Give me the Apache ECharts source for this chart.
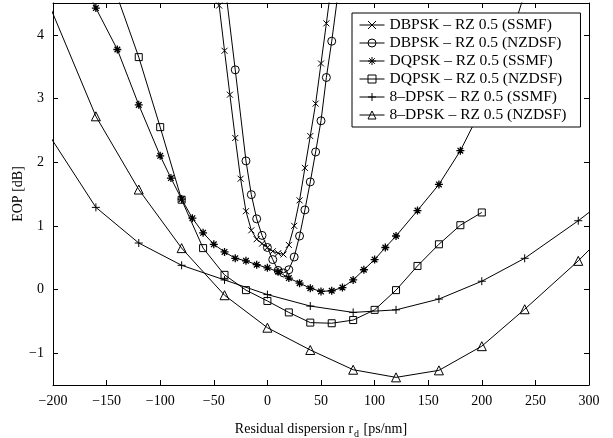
<!DOCTYPE html>
<html>
<head>
<meta charset="utf-8">
<script src="https://cdn.jsdelivr.net/npm/echarts@6/dist/echarts.min.js"></script>
<style>
  html, body { margin: 0; padding: 0; background: #fff; }
  #main { width: 613px; height: 438px; }
</style>
</head>
<body>
<div id="main"></div>
<script>
// series values (x in ps/nm, y in dB)
var dbpskSsmfX = [-50, -45, -40, -35, -30, -25, -20, -15, -10, -5, 0, 5, 10, 15, 20, 25, 30, 35, 40, 45, 50, 55, 60];
var dbpskSsmfY = [5.1, 4.46, 3.75, 3.06, 2.38, 1.74, 1.23, 0.93, 0.79, 0.72, 0.66, 0.6, 0.57, 0.55, 0.7, 1.0, 1.4, 1.91, 2.41, 2.92, 3.55, 4.18, 4.82];

var dbpskNzX = [-40, -30, -20, -15, -10, -5, 0, 5, 10, 15, 20, 25, 30, 35, 40, 45, 50, 55, 60, 70];
var dbpskNzY = [4.85, 3.45, 2.02, 1.49, 1.11, 0.85, 0.66, 0.47, 0.3, 0.26, 0.31, 0.51, 0.84, 1.25, 1.69, 2.16, 2.65, 3.33, 3.9, 5.18];

var dqpskSsmfX = [-180, -160, -140, -120, -100, -90, -80, -70, -60, -50, -40, -30, -20, -10, 0, 10, 20, 30, 40, 50, 60, 70, 80, 90, 100, 110, 120, 140, 160, 180, 200, 220, 240];
var dqpskSsmfY = [5.1, 4.42, 3.77, 2.9, 2.1, 1.75, 1.42, 1.12, 0.89, 0.71, 0.59, 0.49, 0.45, 0.39, 0.34, 0.28, 0.18, 0.1, 0.02, -0.03, -0.02, 0.03, 0.15, 0.31, 0.47, 0.66, 0.84, 1.24, 1.65, 2.18, 2.85, 3.6, 4.65];

var dqpskNzX = [-140, -120, -100, -80, -60, -40, -20, 0, 20, 40, 60, 80, 100, 120, 140, 160, 180, 200];
var dqpskNzY = [4.6, 3.65, 2.55, 1.41, 0.65, 0.23, -0.01, -0.18, -0.36, -0.52, -0.53, -0.48, -0.32, -0.01, 0.37, 0.71, 1.01, 1.21];

var dpsk8SsmfX = [-240, -160, -120, -80, -40, 0, 40, 80, 120, 160, 200, 240, 290, 340];
var dpsk8SsmfY = [3.37, 1.29, 0.73, 0.38, 0.15, -0.08, -0.26, -0.36, -0.32, -0.15, 0.13, 0.49, 1.08, 1.73];

var dpsk8NzX = [-240, -160, -120, -80, -40, 0, 40, 80, 120, 160, 200, 240, 290, 340];
var dpsk8NzY = [5.94, 2.72, 1.57, 0.65, -0.09, -0.6, -0.95, -1.26, -1.38, -1.27, -0.89, -0.31, 0.45, 1.3];

var seriesNames = [
  "DBPSK \u2013 RZ 0.5 (SSMF)",
  "DBPSK \u2013 RZ 0.5 (NZDSF)",
  "DQPSK \u2013 RZ 0.5 (SSMF)",
  "DQPSK \u2013 RZ 0.5 (NZDSF)",
  "8\u2013DPSK \u2013 RZ 0.5 (SSMF)",
  "8\u2013DPSK \u2013 RZ 0.5 (NZDSF)"
];

var yTicks = [-1, 0, 1, 2, 3, 4];

var FONT = "Liberation Serif, Times New Roman, serif";

function pairs(xs, ys) {
  return xs.map(function (x, i) { return [x, ys[i]]; });
}

function minus(v) {
  return String(v).replace("-", "\u2212");
}

// marker shapes (stroked paths)
var crossPath = "path://M0,0L10,10M10,0L0,10";
var plusPath = "path://M5,0L5,10M0,5L10,5";
var starPath = "path://M5,0L5,10M0,5L10,5M1.5,1.5L8.5,8.5M8.5,1.5L1.5,8.5";

function makeSeries(name, data, symbol, size, bw) {
  return {
    name: name,
    type: "line",
    data: data,
    clip: true,
    symbol: symbol,
    symbolSize: size,
    showAllSymbol: true,
    animation: false,
    lineStyle: { color: "#000", width: 1 },
    itemStyle: { color: "transparent", borderColor: "#000", borderWidth: bw || 1 },
    emphasis: { disabled: true },
    z: 2
  };
}

var chart = echarts.init(document.getElementById("main"));

var tickStyle = { show: true, inside: true, length: 5, lineStyle: { color: "#000", width: 1 } };
var lineAxis = { show: true, onZero: false, lineStyle: { color: "#000", width: 1 } };

var option = {
  animation: false,
  backgroundColor: "#fff",
  textStyle: { fontFamily: FONT },
  grid: { left: 53, right: 24, top: 3, bottom: 53, outerBoundsMode: "none", containLabel: false },
  legend: {
    data: seriesNames,
    orient: "vertical",
    left: 352,
    top: 13,
    padding: [4, 14, 4, 7],
    itemGap: 2,
    itemWidth: 25,
    itemHeight: 10,
    backgroundColor: "#fff",
    borderColor: "#000",
    borderWidth: 1,
    borderRadius: 0,
    lineStyle: { width: 1 },
    itemStyle: { borderWidth: 1 },
    textStyle: { fontFamily: FONT, fontSize: 15.5, color: "#000", lineHeight: 15 },
    z: 10
  },
  xAxis: [
    {
      type: "value",
      min: -200,
      max: 300,
      interval: 50,
      position: "bottom",
      axisLine: lineAxis,
      axisTick: tickStyle,
      splitLine: { show: false },
      axisLabel: {
        color: "#000", fontSize: 14, fontFamily: FONT, margin: 9,
        formatter: minus
      },
      name: "Residual dispersion r{sub|d} [ps/nm]",
      nameLocation: "middle",
      nameGap: 34,
      nameMoveOverlap: false,
      nameTextStyle: {
        color: "#000", fontSize: 14, fontFamily: FONT,
        rich: { sub: { fontSize: 10, fontFamily: FONT, color: "#000", padding: [10, 1, 0, 1] } }
      }
    },
    {
      type: "value",
      min: -200,
      max: 300,
      interval: 50,
      position: "top",
      axisLine: lineAxis,
      axisTick: tickStyle,
      axisLabel: { show: false },
      splitLine: { show: false }
    }
  ],
  yAxis: [
    {
      type: "value",
      min: -1.5,
      max: 4.5,
      position: "left",
      axisLine: lineAxis,
      axisTick: Object.assign({}, tickStyle, { customValues: yTicks }),
      splitLine: { show: false },
      axisLabel: {
        color: "#000", fontSize: 14, fontFamily: FONT, margin: 9,
        customValues: yTicks,
        formatter: minus
      },
      name: "EOP [dB]",
      nameLocation: "middle",
      nameRotate: 90,
      nameGap: 28,
      nameMoveOverlap: false,
      nameTextStyle: { color: "#000", fontSize: 14, fontFamily: FONT }
    },
    {
      type: "value",
      min: -1.5,
      max: 4.5,
      position: "right",
      axisLine: lineAxis,
      axisTick: Object.assign({}, tickStyle, { customValues: yTicks }),
      axisLabel: { show: false, customValues: yTicks },
      splitLine: { show: false }
    }
  ],
  series: [
    makeSeries(seriesNames[0], pairs(dbpskSsmfX, dbpskSsmfY), crossPath, 6),
    makeSeries(seriesNames[1], pairs(dbpskNzX, dbpskNzY), "circle", 8),
    makeSeries(seriesNames[2], pairs(dqpskSsmfX, dqpskSsmfY), starPath, 8, 1.3),
    makeSeries(seriesNames[3], pairs(dqpskNzX, dqpskNzY), "rect", 7),
    makeSeries(seriesNames[4], pairs(dpsk8SsmfX, dpsk8SsmfY), plusPath, 8),
    makeSeries(seriesNames[5], pairs(dpsk8NzX, dpsk8NzY), "triangle", 9)
  ]
};

chart.setOption(option);
</script>
</body>
</html>
